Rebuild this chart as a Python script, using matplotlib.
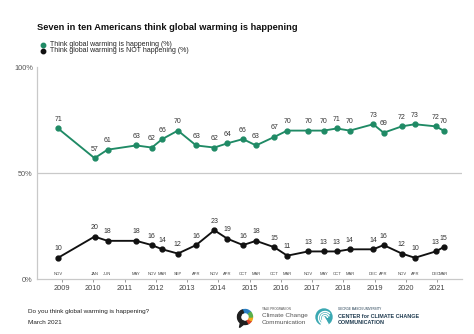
import matplotlib
matplotlib.use("Agg")
import matplotlib.pyplot as plt
from matplotlib.lines import Line2D
from matplotlib.patches import Wedge, Circle, Arc, Polygon

plt.rcParams['font.family'] = ['Liberation Sans', 'DejaVu Sans']

# survey waves
years = [2008, 2010, 2010, 2011, 2011, 2012, 2012, 2013, 2013, 2014, 2014, 2015,
         2015, 2016, 2016, 2017, 2017, 2018, 2018, 2019, 2019, 2020, 2020, 2021]
months = ['NOV', 'JAN', 'JUN', 'MAY', 'NOV', 'MAR', 'SEP', 'APR', 'NOV', 'APR', 'OCT', 'MAR',
          'OCT', 'MAR', 'NOV', 'MAY', 'OCT', 'MAR', 'DEC', 'APR', 'NOV', 'APR', 'DEC', 'MAR']
happening = [71, 57, 61, 63, 62, 66, 70, 63, 62, 64, 66, 63,
             67, 70, 70, 70, 71, 70, 73, 69, 72, 73, 72, 70]
not_happening = [10, 20, 18, 18, 16, 14, 12, 16, 23, 19, 16, 18,
                 15, 11, 13, 13, 13, 14, 14, 16, 12, 10, 13, 15]
year_ticks = list(range(2009, 2022))
y_ticks = [0, 50, 100]
y_labels = ['0%', '50%', '100%']

GREEN = '#1f8a65'
BLACK = '#111111'
GREY = '#c9c9c9'

month_idx = {m: i for i, m in enumerate(['JAN', 'FEB', 'MAR', 'APR', 'MAY', 'JUN', 'JUL',
                                         'AUG', 'SEP', 'OCT', 'NOV', 'DEC'])}
x = [y + (month_idx[m] + 0.5) / 12 for y, m in zip(years, months)]

fig = plt.figure(figsize=(4.74, 3.34), dpi=100)
ax = fig.add_axes([37 / 474, 1 - 279 / 334, (462 - 37) / 474, 212 / 334])

for vals, col in [(happening, GREEN), (not_happening, BLACK)]:
    ax.plot(x, vals, color=col, lw=1.35, marker='o', ms=3.5, zorder=3, clip_on=False)
    for xi, v in zip(x, vals):
        ax.annotate(str(v), (xi, v), xytext=(0, 4), textcoords='offset points',
                    ha='center', va='bottom', fontsize=5, color='#333333')

for xi, m in zip(x, months):
    ax.text(xi, 1.3, m, ha='center', va='bottom', fontsize=3, color='#444444')

ax.set_xlim(2008.2, 2021.8)
ax.set_ylim(0, 100)
ax.axhline(50, color=GREY, lw=0.9, zorder=1)

ax.set_xticks(year_ticks)
ax.set_xticklabels([str(y) for y in year_ticks])
ax.set_yticks(y_ticks)
ax.set_yticklabels(y_labels)
ax.tick_params(axis='x', length=2, width=0.6, color='#888888', pad=2.5,
               labelsize=5.3, labelcolor='#444444')
ax.tick_params(axis='y', length=0, pad=3, labelsize=5.3, labelcolor='#555555')

for s in ['top', 'right']:
    ax.spines[s].set_visible(False)
for s in ['left', 'bottom']:
    ax.spines[s].set_color(GREY)
    ax.spines[s].set_linewidth(0.9)

# title and legend
fig.text(37 / 474, 1 - 27 / 334, 'Seven in ten Americans think global warming is happening',
         fontsize=6.7, fontweight='bold', va='center', ha='left', color='#111111')
legend_items = [('Think global warming is happening (%)', GREEN, 44.5),
                ('Think global warming is NOT happening (%)', BLACK, 51)]
for label, col, ypx in legend_items:
    fig.add_artist(Line2D([43 / 474], [1 - ypx / 334], transform=fig.transFigure,
                          marker='o', ms=3.2, color=col, lw=0))
    fig.text(50 / 474, 1 - ypx / 334, label, fontsize=5.0, va='center', ha='left',
             color='#222222')

# footer notes
fig.text(28 / 474, 1 - 312 / 334, 'Do you think global warming is happening?',
         fontsize=4.6, va='center', color='#222222')
fig.text(28 / 474, 1 - 323 / 334, 'March 2021', fontsize=4.6, va='center', color='#222222')

# Yale program mark
lax = fig.add_axes([235 / 474, 1 - 328 / 334, 20 / 474, 20 / 334])
lax.set_xlim(-1, 1)
lax.set_ylim(-1, 1)
lax.set_aspect('equal')
lax.axis('off')
ring = [(40, 110, '#2a7fc1'), (110, 160, '#1f1f1f'), (160, 250, '#1f1f1f'),
        (250, 300, '#1f1f1f'), (300, 330, '#d9432b'), (330, 360, '#f0a81c'),
        (0, 40, '#5ab04a')]
for t1, t2, c in ring:
    lax.add_patch(Wedge((0, 0.1), 0.75, t1, t2, width=0.3, color=c))
lax.add_patch(Polygon([(-0.45, -0.45), (-0.55, -0.95), (-0.1, -0.6)], color='#1f1f1f'))

fig.text(262 / 474, 1 - 309.5 / 334, 'YALE PROGRAM ON', fontsize=2.2, va='center',
         color='#444444')
fig.text(262 / 474, 1 - 315.5 / 334, 'Climate Change', fontsize=4.6, va='center',
         color='#555555')
fig.text(262 / 474, 1 - 322 / 334, 'Communication', fontsize=4.6, va='center',
         color='#555555')

# George Mason center mark
gax = fig.add_axes([314 / 474, 1 - 327 / 334, 20 / 474, 20 / 334])
gax.set_xlim(-1, 1)
gax.set_ylim(-1, 1)
gax.set_aspect('equal')
gax.axis('off')
gax.add_patch(Circle((0, 0), 0.8, color='#3aa8b2'))
for r, t1, t2 in [(0.25, 0, 300), (0.45, 20, 280), (0.65, 40, 260)]:
    gax.add_patch(Arc((0.1, -0.1), 2 * r, 2 * r, theta1=t1, theta2=t2, color='white', lw=1))
gax.add_patch(Wedge((0, 0), 0.85, 250, 300, color='white'))

fig.text(338 / 474, 1 - 309.5 / 334, 'GEORGE MASON UNIVERSITY', fontsize=2.2, va='center',
         color='#1e3a4f')
fig.text(338 / 474, 1 - 316.5 / 334, 'CENTER for CLIMATE CHANGE', fontsize=3.9, va='center',
         color='#1e3a4f', fontweight='bold')
fig.text(338 / 474, 1 - 323 / 334, 'COMMUNICATION', fontsize=3.9, va='center',
         color='#1e3a4f', fontweight='bold')

fig.savefig('out.png', dpi=100, facecolor='white')
